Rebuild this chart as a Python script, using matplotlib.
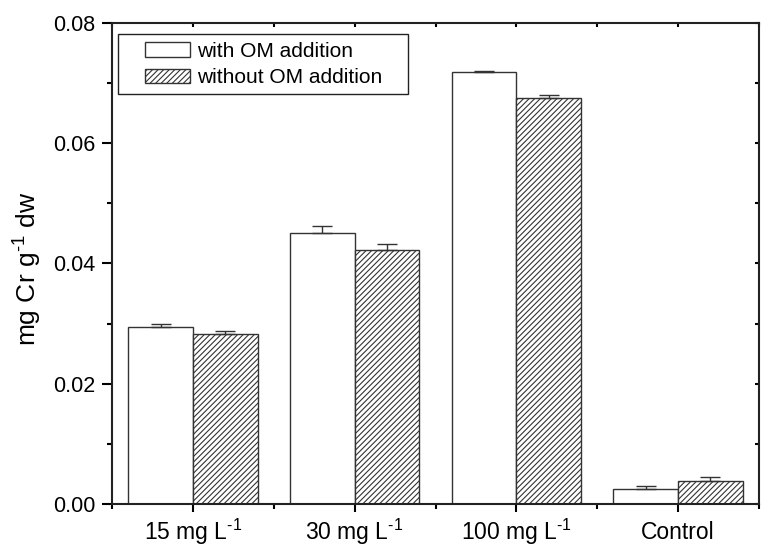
import numpy as np
import matplotlib
matplotlib.use("Agg")
import matplotlib.pyplot as plt
from matplotlib.ticker import MultipleLocator, FormatStrFormatter
from matplotlib.patches import Rectangle

plt.rcParams["font.family"] = ["Liberation Sans", "DejaVu Sans"]
plt.rcParams["mathtext.fontset"] = "custom"
plt.rcParams["mathtext.rm"] = "Liberation Sans"
plt.rcParams["mathtext.it"] = "Liberation Sans:italic"
plt.rcParams["hatch.linewidth"] = 0.8
plt.rcParams["hatch.color"] = "#333333"

# data
groups = ["15 mg L$^{\u2010 1}$", "30 mg L$^{\u2010 1}$", "100 mg L$^{\u2010 1}$", "Control"]
with_om = [0.0295, 0.0450, 0.0719, 0.0025]
with_om_err = [0.0005, 0.0013, 0.0001, 0.00045]
without_om = [0.0283, 0.0423, 0.0676, 0.0039]
without_om_err = [0.0004, 0.0010, 0.0004, 0.0006]

x = np.arange(1, len(groups) + 1)
w = 0.4
edge = "#333333"

fig = plt.figure(figsize=(7.61, 5.46), dpi=100)
ax = fig.add_axes([0.1472, 0.0769, 0.8502, 0.881])

ekw = dict(ecolor=edge, elinewidth=1.0, capthick=1.0)
ax.bar(x - w / 2, with_om, w, color="white", edgecolor=edge, linewidth=1.0,
       yerr=[np.zeros(4), with_om_err], capsize=7, error_kw=ekw,
       label="with OM addition")
ax.bar(x + w / 2, without_om, w, color="white", edgecolor=edge, linewidth=1.0,
       hatch="//////", yerr=[np.zeros(4), without_om_err], capsize=7,
       error_kw=ekw, label="without OM addition")

ax.set_xlim(0.5, 4.5)
ax.set_ylim(0, 0.08)
ax.set_xticks(x)
ax.set_xticklabels(groups)
ax.set_xticks(np.arange(0.5, 5, 1), minor=True)
ax.yaxis.set_major_locator(MultipleLocator(0.02))
ax.yaxis.set_minor_locator(MultipleLocator(0.01))
ax.yaxis.set_major_formatter(FormatStrFormatter("%.2f"))

ax.tick_params(axis="y", which="major", direction="out", length=7.2, width=1.5,
               labelsize=15.5, pad=5)
ax.tick_params(axis="y", which="minor", direction="out", length=3.6, width=1.5)
ax.tick_params(axis="x", which="major", direction="out", length=6, width=1.5,
               labelsize=16.5, pad=19.5)
ax.tick_params(axis="x", which="minor", direction="out", length=3.6, width=1.5)
for t in ax.xaxis.get_major_ticks():
    t.label1.set_va("baseline")

# small inward ticks on the top and right spines
ax.tick_params(which="both", top=True, right=True)
for tk in ax.xaxis.get_major_ticks() + ax.xaxis.get_minor_ticks():
    tk.tick2line.set_marker(3)
    tk.tick2line.set_markersize(3)
for tk in ax.yaxis.get_major_ticks() + ax.yaxis.get_minor_ticks():
    tk.tick2line.set_marker(0)
    tk.tick2line.set_markersize(3)

for s in ax.spines.values():
    s.set_linewidth(1.5)
    s.set_color("#222222")

ax.set_ylabel("mg Cr g$^{\u2010 1}$ dw", fontsize=19, labelpad=6)
ax.yaxis.label.set_y(0.488)

# legend box drawn separately so its padding matches the original
ax.add_patch(Rectangle((0.0093, 0.852), 0.4482, 0.125, transform=ax.transAxes,
                       fill=False, edgecolor="#222222", linewidth=1.0, zorder=5))
leg = ax.legend(loc="upper left", bbox_to_anchor=(0.051, 0.961), fontsize=15,
                frameon=False, handlelength=2.15, handleheight=0.67,
                handletextpad=0.33, borderpad=0, borderaxespad=0,
                labelspacing=0.35)

fig.savefig("out.png", dpi=100)
